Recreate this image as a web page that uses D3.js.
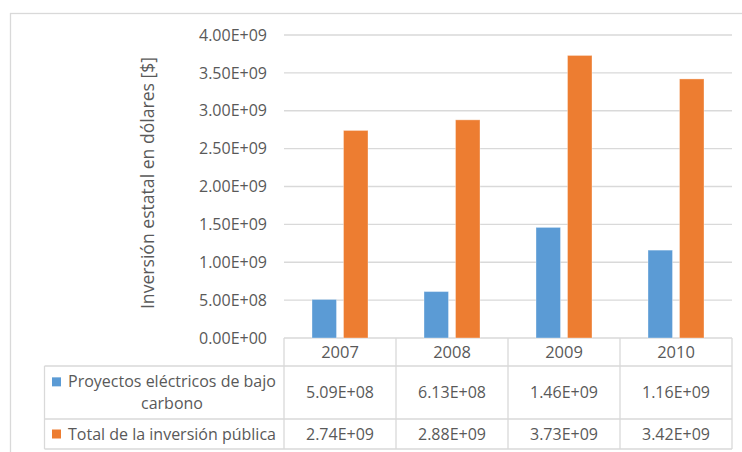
<!DOCTYPE html>
<html>
<head>
<meta charset="utf-8">
<script src="https://cdn.jsdelivr.net/npm/d3@7"></script>
<style>
  html, body { margin: 0; padding: 0; background: #fff; }
  svg { display: block; }
  text { font-family: "Open Sans", "Noto Sans", sans-serif; fill: #595959; }
</style>
</head>
<body>
<svg id="chart" width="742" height="452"></svg>
<script>
// Inversión estatal por año
const years = ["2007", "2008", "2009", "2010"];
const seriesNames = ["Proyectos eléctricos de bajo carbono", "Total de la inversión pública"];
const seriesLabelLines = [["Proyectos eléctricos de bajo", "carbono"], ["Total de la inversión pública"]];
const lowCarbon = [5.09e8, 6.13e8, 1.46e9, 1.16e9];
const totalPublic = [2.74e9, 2.88e9, 3.73e9, 3.42e9];
const yTicks = [0, 5e8, 1e9, 1.5e9, 2e9, 2.5e9, 3e9, 3.5e9, 4e9];
const colors = ["#5B9BD5", "#ED7D31"];
const yTitle = "Inversión estatal en dólares [$]";

const series = [lowCarbon, totalPublic];

// Excel-style scientific notation: 5.09E+08
function sci(v) {
  if (v === 0) return "0.00E+00";
  const [m, e] = v.toExponential(2).split("e");
  const n = +e;
  return m + "E" + (n < 0 ? "-" : "+") + String(Math.abs(n)).padStart(2, "0");
}

const svg = d3.select("#chart");
const grid = "#D9D9D9";

// outer chart frame
svg.append("rect")
  .attr("x", 10.5).attr("y", 13.5).attr("width", 900).attr("height", 600)
  .attr("fill", "none").attr("stroke", grid).attr("stroke-width", 1.3);

const plotLeft = 284, plotRight = 732, plotTop = 35, plotBottom = 338;
const y = d3.scaleLinear().domain([0, 4e9]).range([plotBottom, plotTop]);
const x = d3.scaleBand().domain(years).range([plotLeft, plotRight]).paddingInner(0).paddingOuter(0);
const xs = d3.scaleBand().domain(d3.range(series.length)).range([0, x.bandwidth()])
  .paddingInner(0.222).paddingOuter(0.889);

// gridlines
svg.append("g").selectAll("line").data(yTicks).join("line")
  .attr("x1", plotLeft).attr("x2", plotRight)
  .attr("y1", d => y(d)).attr("y2", d => y(d))
  .attr("stroke", grid).attr("stroke-width", 1.3);

// y axis labels
const yAxis = d3.axisLeft(y).tickValues(yTicks).tickFormat(sci).tickSize(0).tickPadding(0);
const yg = svg.append("g").attr("transform", "translate(267,0)").call(yAxis);
yg.select(".domain").remove();
yg.selectAll("text").attr("font-size", 16).attr("fill", "#595959")
  .style("font-family", '"Open Sans", sans-serif');

// axis title
svg.append("text")
  .attr("transform", "translate(154,183) rotate(-90)")
  .attr("text-anchor", "middle")
  .attr("font-size", 17.6)
  .text(yTitle);

// bars
series.forEach((vals, si) => {
  svg.append("g").selectAll("rect").data(vals).join("rect")
    .attr("x", (d, i) => x(years[i]) + xs(si))
    .attr("width", xs.bandwidth())
    .attr("y", d => y(d))
    .attr("height", d => y(0) - y(d))
    .attr("fill", colors[si])
    .attr("stroke", "#fff").attr("stroke-opacity", 0.35).attr("stroke-width", 1);
});

// data table under the plot
const rowYear = [plotBottom, 366];
const rowA = [366, 419];
const rowB = [419, 449];
const tableLeft = 44.5;
const tg = svg.append("g");
const hl = (y0, x0, x1) => tg.append("line").attr("x1", x0).attr("x2", x1).attr("y1", y0).attr("y2", y0)
  .attr("stroke", grid).attr("stroke-width", 1.3);
const vl = (x0, y0, y1) => tg.append("line").attr("x1", x0).attr("x2", x0).attr("y1", y0).attr("y2", y1)
  .attr("stroke", grid).attr("stroke-width", 1.3);
hl(rowA[0], tableLeft, plotRight);
hl(rowB[0], tableLeft, plotRight);
hl(rowB[1], tableLeft, plotRight);
vl(tableLeft, rowA[0], rowB[1]);
years.forEach(yr => vl(x(yr), rowYear[0], rowB[1]));
vl(plotRight, rowYear[0], rowB[1]);

// year headers
tg.selectAll("text.year").data(years).join("text")
  .attr("class", "year")
  .attr("x", d => x(d) + x.bandwidth() / 2)
  .attr("y", (rowYear[0] + rowYear[1]) / 2)
  .attr("dy", "0.35em")
  .attr("text-anchor", "middle").attr("font-size", 16.5)
  .text(d => d);

// value cells
const rows = [rowA, rowB];
series.forEach((vals, si) => {
  tg.selectAll("text.v" + si).data(vals).join("text")
    .attr("class", "v" + si)
    .attr("x", (d, i) => x(years[i]) + x.bandwidth() / 2)
    .attr("y", (rows[si][0] + rows[si][1]) / 2)
    .attr("dy", "0.35em")
    .attr("text-anchor", "middle").attr("font-size", 16)
    .text(d => sci(d));
});

// series labels with legend keys
const labelCx = 172;
seriesLabelLines.forEach((lines, si) => {
  const r = rows[si];
  const mid = (r[0] + r[1]) / 2;
  const lh = 21.3;
  const first = mid - (lines.length - 1) * lh / 2;
  lines.forEach((ln, li) => {
    tg.append("text")
      .attr("x", labelCx).attr("y", first + li * lh)
      .attr("dy", "0.35em").attr("text-anchor", "middle").attr("font-size", 16)
      .text(ln);
  });
  tg.append("rect")
    .attr("x", 52).attr("y", first - 4.5).attr("width", 9).attr("height", 9)
    .attr("fill", colors[si]);
});
</script>
</body>
</html>
